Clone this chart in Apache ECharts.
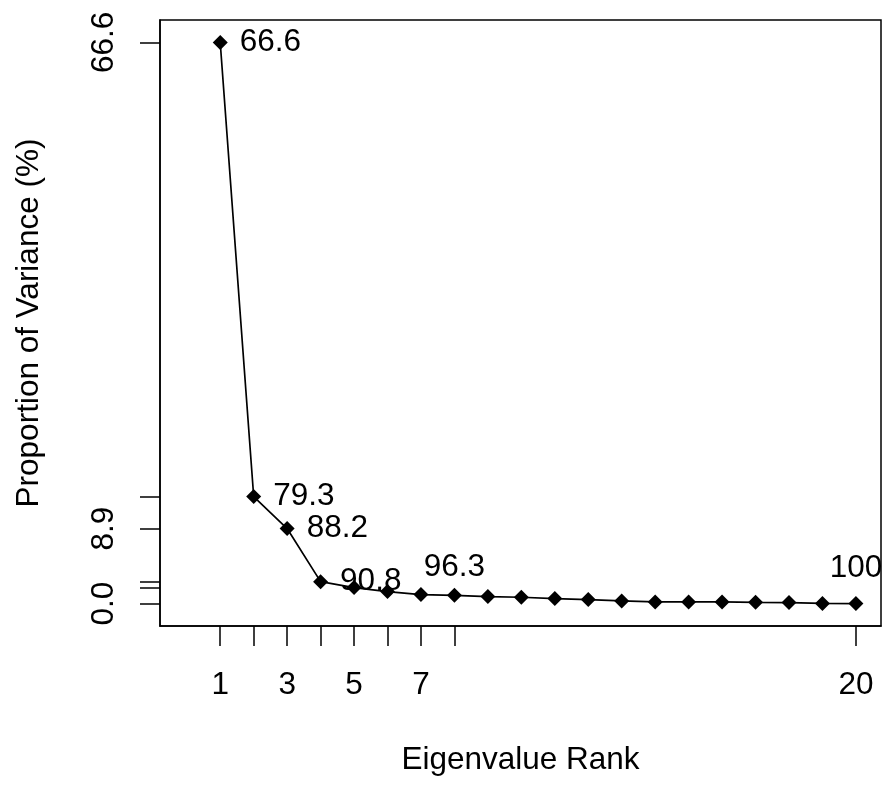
<!DOCTYPE html>
<html>
<head>
<meta charset="utf-8">
<script src="https://cdn.jsdelivr.net/npm/echarts@6/dist/echarts.min.js"></script>
<style>
  html, body { margin: 0; padding: 0; background: #fff; }
  #chart { width: 882px; height: 785px; }
</style>
</head>
<body>
<div id="chart"></div>
<script>
// eigenvalue rank vs proportion of variance (%)
var ranks = [1, 2, 3, 4, 5, 6, 7, 8, 9, 10, 11, 12, 13, 14, 15, 16, 17, 18, 19, 20];
var variance = [66.6, 12.7, 8.9, 2.6, 1.9, 1.42, 1.07, 0.98, 0.83, 0.75,
                0.59, 0.47, 0.31, 0.19, 0.19, 0.19, 0.15, 0.12, 0.01, 0.0];

// cumulative labels written next to some points
var labelRanks = [1, 2, 3, 4, 8, 20];
var labelTexts = ["66.6", "79.3", "88.2", "90.8", "96.3", "100"];

// axis ticks
var xTicks = [1, 2, 3, 4, 5, 6, 7, 8, 20];
var xTickLabels = [1, 3, 5, 7, 20];
var yTicks = [0, 1.9, 2.6, 8.9, 12.7, 66.6];
var yTickLabels = [0, 8.9, 66.6];

var font = "Liberation Sans, Arial, sans-serif";
var fs = 31.5;

var chart = echarts.init(document.getElementById("chart"));

var points = ranks.map(function(r, i) {
  var item = { value: [r, variance[i]] };
  var k = labelRanks.indexOf(r);
  if (k >= 0) {
    var above = r >= 8;
    item.label = {
      show: true,
      formatter: labelTexts[k],
      position: above ? "top" : "right",
      distance: above ? (r === 20 ? 12 : 4) : 12
    };
  }
  return item;
});

var option = {
  animation: false,
  backgroundColor: "#fff",
  grid: {
    left: 160,
    right: 1,
    top: 20,
    bottom: 159,
    show: true,
    borderColor: "#000",
    borderWidth: 1.5
  },
  xAxis: {
    type: "value",
    min: -0.8,
    max: 20.75,
    name: "Eigenvalue Rank",
    nameLocation: "middle",
    nameGap: 118,
    nameTextStyle: { color: "#000", fontSize: fs, fontFamily: font },
    axisLine: { show: true, onZero: false, lineStyle: { color: "#000", width: 1.5 } },
    axisTick: {
      show: true,
      length: 20,
      customValues: xTicks,
      lineStyle: { color: "#000", width: 1.5 }
    },
    axisLabel: {
      customValues: xTickLabels,
      margin: 43,
      color: "#000",
      fontSize: fs,
      fontFamily: font
    },
    splitLine: { show: false }
  },
  yAxis: {
    type: "value",
    min: -2.664,
    max: 69.264,
    name: "Proportion of Variance (%)",
    nameLocation: "middle",
    nameRotate: 90,
    nameGap: 115,
    nameTextStyle: { color: "#000", fontSize: fs, fontFamily: font },
    axisLine: { show: true, onZero: false, lineStyle: { color: "#000", width: 1.5 } },
    axisTick: {
      show: true,
      length: 20,
      customValues: yTicks,
      lineStyle: { color: "#000", width: 1.5 }
    },
    axisLabel: {
      customValues: yTickLabels,
      rotate: 90,
      margin: 40,
      color: "#000",
      fontSize: fs,
      fontFamily: font,
      formatter: function(v) { return v.toFixed(1); }
    },
    splitLine: { show: false }
  },
  series: [
    {
      type: "line",
      data: points,
      symbol: "diamond",
      symbolSize: [15, 15],
      itemStyle: { color: "#000" },
      lineStyle: { color: "#000", width: 1.7 },
      label: { color: "#000", fontSize: fs, fontFamily: font },
      labelLayout: { hideOverlap: false }
    }
  ]
};

chart.setOption(option);
</script>
</body>
</html>
